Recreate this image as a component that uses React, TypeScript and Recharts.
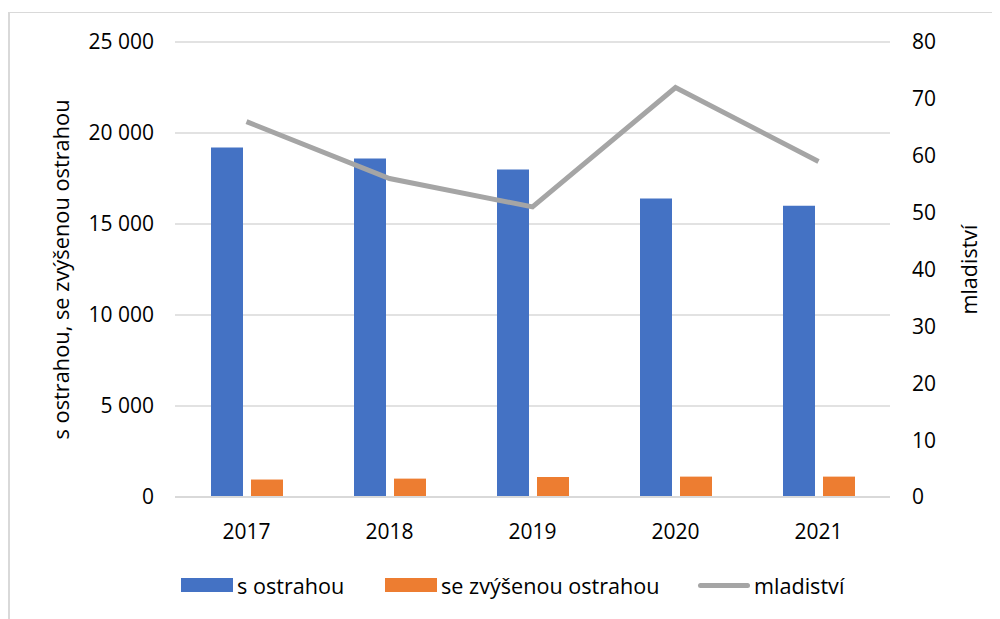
import React from 'react';
import { ComposedChart, Bar, Line, XAxis, YAxis, CartesianGrid, Legend } from 'recharts';

const years = ['2017', '2018', '2019', '2020', '2021'];
const sOstrahou = [19200, 18600, 18000, 16400, 16000];
const seZvysenou = [960, 1010, 1100, 1120, 1120];
const mladistvi = [66, 56, 51, 72, 59];

const leftTicks = [0, 5000, 10000, 15000, 20000, 25000];
const rightTicks = [0, 10, 20, 30, 40, 50, 60, 70, 80];

const FONT = '"Open Sans", sans-serif';
const BLUE = '#4472c4';
const ORANGE = '#ed7d31';
const GRAY = '#a5a5a5';

const data = years.map((y, i) => ({
  year: y,
  s: sOstrahou[i],
  se: seZvysenou[i],
  m: mladistvi[i],
}));

const fmt = (v: number) => (v >= 1000 ? `${Math.floor(v / 1000)} ${String(v % 1000).padStart(3, '0')}` : String(v));

const tickStyle = { fontFamily: FONT, fontSize: 21, fill: '#000' };

const LegendBox = () => {
  const item = (left: number, swatch: React.ReactNode, text: string) => (
    <div style={{ position: 'absolute', left, top: 26, display: 'flex', alignItems: 'center', height: 24 }}>
      {swatch}
      <span style={{ fontFamily: FONT, fontSize: 21.6, color: '#000', marginLeft: 4, whiteSpace: 'nowrap' }}>{text}</span>
    </div>
  );
  return (
    <div style={{ position: 'relative', height: 72 }}>
      {item(173, <div style={{ width: 52, height: 14, background: BLUE }} />, 's ostrahou')}
      {item(377, <div style={{ width: 52, height: 14, background: ORANGE }} />, 'se zvýšenou ostrahou')}
      {item(690, <div style={{ width: 52, height: 5, borderRadius: 3, background: GRAY }} />, 'mladiství')}
    </div>
  );
};

const LeftLabel = (props: any) => {
  const vb = props.viewBox || {};
  const cy = vb.y + vb.height / 2;
  return (
    <text x={52} y={cy} transform={`rotate(-90 52 ${cy})`} textAnchor="middle" dominantBaseline="central"
      style={{ fontFamily: FONT, fontSize: 21.8, fill: '#000' }}>
      s ostrahou, se zvýšenou ostrahou
    </text>
  );
};

const RightLabel = (props: any) => {
  const vb = props.viewBox || {};
  const cy = vb.y + vb.height / 2;
  return (
    <text x={960} y={cy} transform={`rotate(-90 960 ${cy})`} textAnchor="middle" dominantBaseline="central"
      style={{ fontFamily: FONT, fontSize: 21.5, fill: '#000' }}>
      mladiství
    </text>
  );
};

export default function App() {
  return (
    <div style={{ position: 'relative', width: 992, height: 611 }}>
      <div style={{ position: 'absolute', left: 0, top: 4, width: 990, height: 607, borderTop: '1px solid #d9d9d9', borderLeft: '2px solid #d9d9d9' }} />
      <ComposedChart
        width={992}
        height={611}
        data={data}
        margin={{ top: 34, right: 0, left: 0, bottom: 0 }}
        barSize={32}
        barGap={8}
        style={{ fontFamily: FONT }}
      >
        <CartesianGrid yAxisId="left" vertical={false} stroke="#d9d9d9" strokeWidth={1.5} />
        <XAxis dataKey="year" height={50} axisLine={{ stroke: '#d9d9d9', strokeWidth: 2 }} tickLine={false} tickSize={0} tickMargin={27} tick={tickStyle} />
        <YAxis yAxisId="left" width={167} domain={[0, 25000]} ticks={leftTicks} tickFormatter={fmt} axisLine={false} tickLine={false} tickSize={0} tickMargin={21} tick={tickStyle} label={<LeftLabel />} />
        <YAxis yAxisId="right" orientation="right" width={110} domain={[0, 80]} ticks={rightTicks} axisLine={false} tickLine={false} tickSize={0} tickMargin={22} tick={tickStyle} label={<RightLabel />} />
        <Bar yAxisId="left" dataKey="s" name="s ostrahou" fill={BLUE} isAnimationActive={false} />
        <Bar yAxisId="left" dataKey="se" name="se zvýšenou ostrahou" fill={ORANGE} isAnimationActive={false} />
        <Line yAxisId="right" dataKey="m" name="mladiství" stroke={GRAY} strokeWidth={5} dot={false} activeDot={false} isAnimationActive={false} />
        <Legend verticalAlign="bottom" height={72} content={<LegendBox />} />
      </ComposedChart>
    </div>
  );
}
